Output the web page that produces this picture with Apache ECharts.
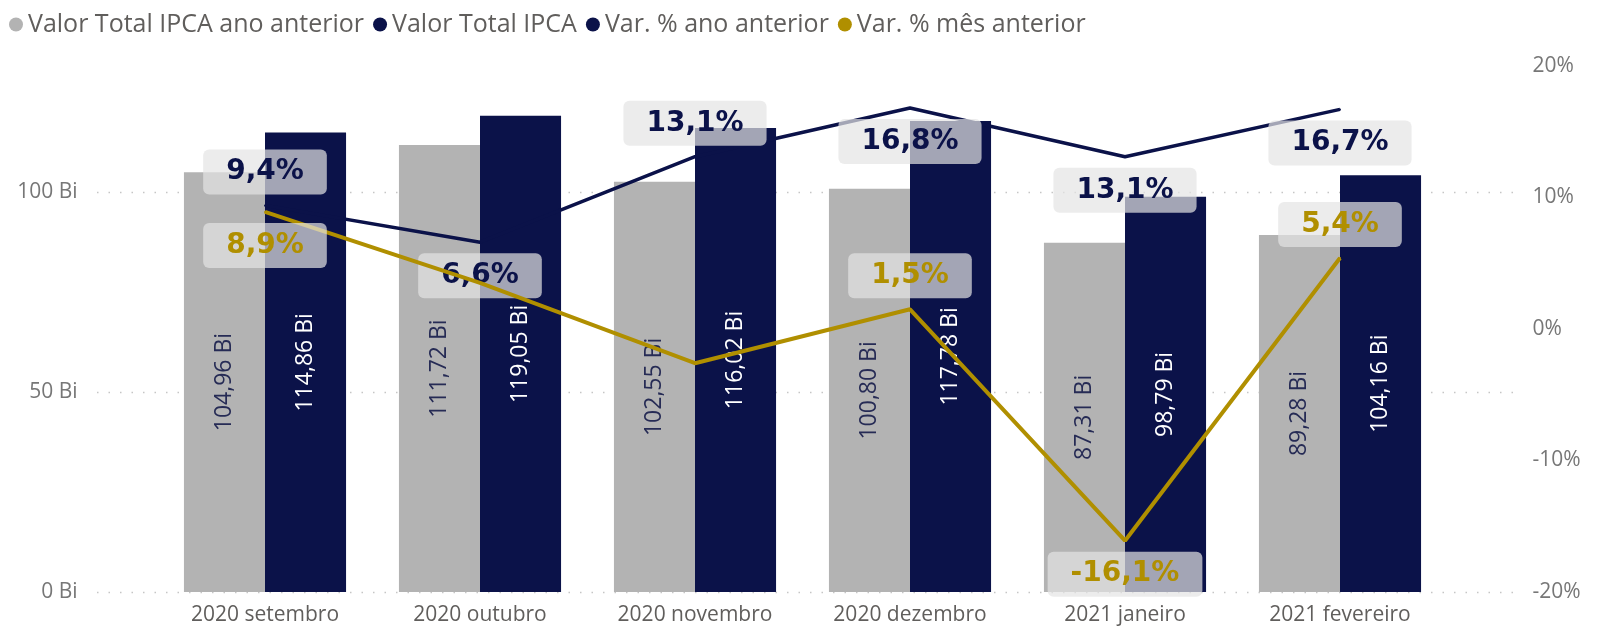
<!DOCTYPE html>
<html>
<head>
<meta charset="utf-8">
<script src="https://cdn.jsdelivr.net/npm/echarts@6/dist/echarts.min.js"></script>
<style>
  html, body { margin: 0; padding: 0; background: #fff; }
  #chart { width: 1600px; height: 629px; }
</style>
</head>
<body>
<div id="chart"></div>
<script>
// dados
var categories = ['2020 setembro', '2020 outubro', '2020 novembro', '2020 dezembro', '2021 janeiro', '2021 fevereiro'];
var valorAnoAnterior = [104.96, 111.72, 102.55, 100.80, 87.31, 89.28];
var valorAtual = [114.86, 119.05, 116.02, 117.78, 98.79, 104.16];
var varAnoAnterior = [9.4, 6.6, 13.1, 16.8, 13.1, 16.7];
var varMesAnterior = [8.9, 3.5, -2.6, 1.5, -16.1, 5.4];
var leftTicks = [0, 50, 100];

var GREY = '#b3b3b3';
var NAVY = '#0b1249';
var GOLD = '#b08f00';

function fmtBi(v) { return v.toFixed(2).replace('.', ',') + ' Bi'; }
function fmtPct(v) { return v.toFixed(1).replace('.', ',') + '%'; }

// lado de cada rótulo das linhas (null = escondido)
var ladoAno = ['top', 'bottom', 'top', 'bottom', 'bottom', 'bottom'];
var ladoMes = ['bottom', null, null, 'top', 'bottom', 'top'];

function lineLabel(color) {
  return {
    show: true,
    distance: 10,
    color: color,
    fontFamily: 'DejaVu Sans',
    fontWeight: 'bold',
    fontSize: 28,
    lineHeight: 33,
    padding: [6, 23],
    borderRadius: 6,
    backgroundColor: 'rgba(228,228,228,0.7)',
    formatter: function (p) { return fmtPct(p.value); }
  };
}

function lineData(values, sides) {
  return values.map(function (v, i) {
    return {
      value: v,
      label: sides[i] ? { position: sides[i] } : { show: false }
    };
  });
}

var barLabel = {
  show: true,
  position: 'inside',
  rotate: 90,
  fontFamily: 'Open Sans',
  fontWeight: 'normal',
  fontSize: 23,
  formatter: function (p) { return fmtBi(p.value); }
};

var chart = echarts.init(document.getElementById('chart'));
var option = {
  animation: false,
  textStyle: { fontFamily: 'Open Sans' },
  legend: {
    left: 4,
    top: 7,
    icon: 'circle',
    itemWidth: 14,
    itemHeight: 14,
    itemGap: 9,
    textStyle: { color: '#605e5c', fontSize: 25, fontFamily: 'Open Sans' },
    data: ['Valor Total IPCA ano anterior', 'Valor Total IPCA', 'Var. % ano anterior', 'Var. % mês anterior']
  },
  grid: { left: 157.5, right: 152.5, top: 66, bottom: 37 },
  xAxis: {
    type: 'category',
    data: categories,
    axisLine: { show: false },
    axisTick: { show: false },
    axisLabel: { color: '#605e5c', fontSize: 21, margin: 13 }
  },
  yAxis: [{
    type: 'value',
    min: 0,
    max: 131.5,
    interval: 50,
    axisLine: { show: false },
    axisTick: { show: false },
    splitLine: { show: false },
    axisLabel: {
      color: '#777777',
      fontSize: 21,
      margin: 80,
      formatter: function (v) { return v % 50 === 0 ? v + ' Bi' : ''; }
    }
  }, {
    type: 'value',
    min: -20,
    max: 20,
    interval: 10,
    axisLine: { show: false },
    axisTick: { show: false },
    splitLine: { show: false },
    axisLabel: {
      color: '#777777',
      fontSize: 21,
      margin: 85,
      formatter: function (v) { return v + '%'; }
    }
  }],
  series: [{
    name: 'Valor Total IPCA ano anterior',
    type: 'bar',
    data: valorAnoAnterior,
    barGap: '0%',
    barCategoryGap: '24.6%',
    itemStyle: { color: GREY },
    label: Object.assign({}, barLabel, { color: '#262b55' }),
    z: 2
  }, {
    name: 'Valor Total IPCA',
    type: 'bar',
    data: valorAtual,
    itemStyle: { color: NAVY },
    label: Object.assign({}, barLabel, { color: '#ffffff' }),
    z: 2
  }, {
    name: 'Var. % ano anterior',
    type: 'line',
    yAxisIndex: 1,
    data: lineData(varAnoAnterior, ladoAno),
    symbol: 'circle',
    symbolSize: 2,
    itemStyle: { color: NAVY },
    lineStyle: { color: NAVY, width: 3.5 },
    label: lineLabel(NAVY),
    z: 5
  }, {
    name: 'Var. % mês anterior',
    type: 'line',
    yAxisIndex: 1,
    data: lineData(varMesAnterior, ladoMes),
    symbol: 'circle',
    symbolSize: 2,
    itemStyle: { color: GOLD },
    lineStyle: { color: GOLD, width: 4 },
    label: lineLabel(GOLD),
    z: 6
  }]
};
chart.setOption(option);

// linhas de grade pontilhadas, mais largas que a área do grid (como no Power BI)
var grade = leftTicks.map(function (t) {
  var y = Math.round(chart.convertToPixel({ yAxisIndex: 0 }, t)) + 0.5;
  return {
    type: 'line',
    z: 0,
    silent: true,
    shape: { x1: 97, y1: y, x2: 1513, y2: y },
    style: { stroke: '#c6c6c6', lineWidth: 1.5, lineDash: [1.5, 10] }
  };
});
chart.setOption({ graphic: grade });
</script>
</body>
</html>
